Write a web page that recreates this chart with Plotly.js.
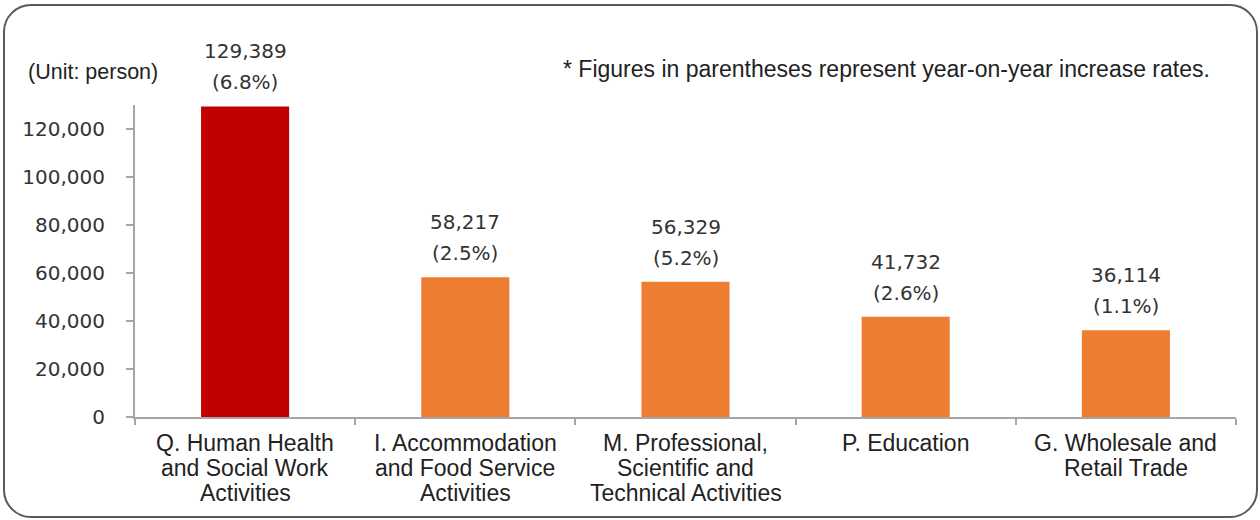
<!DOCTYPE html>
<html><head><meta charset="utf-8">
<script src="https://cdn.plot.ly/plotly-3.0.1.min.js"></script>
<style>
html,body{margin:0;padding:0;background:#fff;}
#wrap{position:relative;width:1260px;height:520px;}
#chart{position:absolute;left:0;top:0;width:1260px;height:520px;}
#frame{position:absolute;left:3px;top:4px;width:1251px;height:510px;border:2px solid #5a5a5a;border-radius:28px;pointer-events:none;}
</style></head>
<body><div id="wrap"><div id="chart"></div><div id="frame"></div></div>
<script>
const categories = [
  "Q. Human Health<br>and Social Work<br>Activities",
  "I. Accommodation<br>and Food Service<br>Activities",
  "M. Professional,<br>Scientific and<br>Technical Activities",
  "P. Education",
  "G. Wholesale and<br>Retail Trade"
];
const values = [129389, 58217, 56329, 41732, 36114];
const rates = ["6.8%", "2.5%", "5.2%", "2.6%", "1.1%"];
const barColors = ["#C00000", "#ED7D31", "#ED7D31", "#ED7D31", "#ED7D31"];
const yTicks = [0, 20000, 40000, 60000, 80000, 100000, 120000];

const numFont = {family: "DejaVu Sans", size: 20, color: "#333333"};
const labelFont = {family: "Liberation Sans", size: 23, color: "#222"};
const annotations = [];
categories.forEach((c, i) => {
  annotations.push({x: c, y: values[i], xref: "x", yref: "y", text: values[i].toLocaleString("en-US"),
    showarrow: false, yanchor: "middle", yshift: 55, font: numFont});
  annotations.push({x: c, y: values[i], xref: "x", yref: "y", text: "(" + rates[i] + ")",
    showarrow: false, yanchor: "middle", yshift: 24, font: numFont});
  c.split("<br>").forEach((line, j) => {
    annotations.push({x: c, y: 0, xref: "x", yref: "y", text: line, showarrow: false,
      yanchor: "middle", yshift: -26 - 25 * j, font: labelFont});
  });
});
annotations.push({xref: "paper", yref: "paper", x: -0.099, y: 1.105, xanchor: "left", yanchor: "middle",
  text: "(Unit: person)", showarrow: false, font: {family: "Liberation Sans", size: 21.5, color: "#222"}});
annotations.push({xref: "paper", yref: "paper", x: 0.978, y: 1.115, xanchor: "right", yanchor: "middle",
  text: "* Figures in parentheses represent year-on-year increase rates.", showarrow: false,
  font: {family: "Liberation Sans", size: 23, color: "#222"}});

const trace = {
  type: "bar", x: categories, y: values,
  marker: {color: barColors},
  width: 0.4, hoverinfo: "skip"
};
const layout = {
  width: 1260, height: 520,
  margin: {l: 135, r: 24, t: 105, b: 103},
  paper_bgcolor: "#fff", plot_bgcolor: "#fff",
  showlegend: false,
  xaxis: {type: "category", showline: true, linecolor: "#a6a6a6", linewidth: 2,
    ticks: "outside", tickson: "boundaries", ticklen: 6, tickcolor: "#a6a6a6", tickwidth: 2,
    showgrid: false, zeroline: false, showticklabels: false},
  yaxis: {range: [0, 130000], tickvals: yTicks, ticktext: yTicks.map(v => v.toLocaleString("en-US")),
    showline: true, linecolor: "#a6a6a6", linewidth: 2, ticks: "outside", ticklen: 7,
    tickcolor: "#a6a6a6", tickwidth: 2, showgrid: false, zeroline: false, ticklabelstandoff: 17,
    tickfont: numFont},
  annotations: annotations
};
Plotly.newPlot("chart", [trace], layout, {displayModeBar: false, staticPlot: true});
</script></body></html>
